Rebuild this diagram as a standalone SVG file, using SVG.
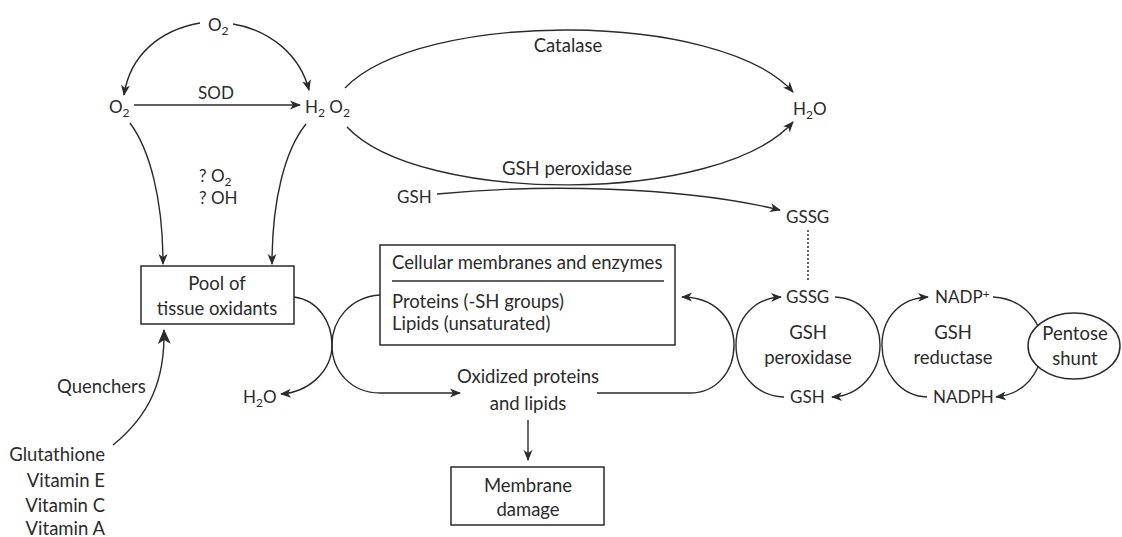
<svg xmlns="http://www.w3.org/2000/svg" width="1122" height="537" viewBox="0 0 1122 537">
<style>
text{font-family:Lato,"Liberation Sans",sans-serif;font-size:17px;fill:#2b2b2b}
text.w{font-size:18.5px}
.c{text-anchor:middle}
.r{text-anchor:end}
.sub{font-size:12px}
.ln{fill:none;stroke:#2b2b2b;stroke-width:1.4}
.box{fill:#fff;stroke:#2b2b2b;stroke-width:1.5}
</style>
<defs>
<marker id="ah" markerUnits="userSpaceOnUse" markerWidth="12" markerHeight="10" refX="10" refY="5" orient="auto" viewBox="0 0 12 10">
<path d="M0,0.5 L11,5 L0,9.5 L3,5 z" fill="#2b2b2b"/>
</marker>
<marker id="ahb" markerUnits="userSpaceOnUse" markerWidth="16" markerHeight="14" refX="14" refY="7" orient="auto" viewBox="0 0 16 14">
<path d="M0,0.5 L15,7 L0,13.5 L4,7 z" fill="#2b2b2b"/>
</marker>
</defs>
<rect width="1122" height="537" fill="#fff"/>
<g id="connectors">
<path class="ln" d="M200 23 C160 30 130 55 124 95" marker-end="url(#ah)"/>
<path class="ln" d="M233 24 C270 30 300 55 309 90" marker-end="url(#ah)"/>
<path class="ln" d="M134 105 L300 105" marker-end="url(#ah)"/>
<path class="ln" d="M130 123 C150 150 163 200 163 264" marker-end="url(#ah)"/>
<path class="ln" d="M306 124 C285 150 272 200 272 264" marker-end="url(#ah)"/>
<path class="ln" d="M345 88 C420 10 720 10 793 92" marker-end="url(#ah)"/>
<path class="ln" d="M347 127 C420 205 720 205 793 122" marker-end="url(#ah)"/>
<path class="ln" d="M437 194 C540 184 680 186 780 210" marker-end="url(#ah)"/>
<path class="ln" d="M808 230 L808 280" stroke-dasharray="2 2"/>
<path class="ln" d="M294 297 C318 300 332 322 332 345 C332 370 310 392 281 394" marker-end="url(#ah)"/>
<path class="ln" d="M380 295 C350 297 332 320 332 345 C332 372 352 393 380 393 L460 393" marker-end="url(#ah)"/>
<path class="ln" d="M597 393 L690 393 C716 393 734 372 734 345 C734 318 714 297 682 297" marker-end="url(#ah)"/>
<path class="ln" d="M784 397 C755 396 736 372 736 345 C736 318 755 298 781 297" marker-end="url(#ah)"/>
<path class="ln" d="M835 297 C862 298 880 320 880 345 C880 372 860 396 832 397" marker-end="url(#ah)"/>
<path class="ln" d="M927 397 C900 396 882 372 882 345 C882 318 900 298 928 297" marker-end="url(#ah)"/>
<path class="ln" d="M993 297 C1015 298 1030 310 1038 326"/>
<path class="ln" d="M1038 367 C1030 385 1015 395 996 397" marker-end="url(#ah)"/>
<path class="ln" d="M528 420 L528 460" marker-end="url(#ah)"/>
<path class="ln" stroke-width="2.2" d="M113 445 C150 415 165 380 164 330" marker-end="url(#ahb)"/>
</g>
<g id="o2-top"><text x="208" y="31">O<tspan class="sub" dy="4">2</tspan></text></g>
<g id="o2-left"><text x="109" y="113">O<tspan class="sub" dy="4">2</tspan></text></g>
<g id="sod"><text class="c" x="216" y="99">SOD</text></g>
<g id="h2o2"><text x="305" y="113">H<tspan class="sub" dy="4">2</tspan><tspan dy="-4"> O</tspan><tspan class="sub" dy="4">2</tspan></text></g>
<g id="radicals"><text x="199" y="182">? O<tspan class="sub" dy="4">2</tspan></text><text x="199" y="204">? OH</text></g>
<g id="catalase"><text class="c w" x="568" y="52">Catalase</text></g>
<g id="gsh-perox-label"><text class="c w" x="567" y="175">GSH peroxidase</text></g>
<g id="gsh-top"><text x="397" y="203">GSH</text></g>
<g id="h2o-right"><text x="793" y="115">H<tspan class="sub" dy="4">2</tspan><tspan dy="-4">O</tspan></text></g>
<g id="gssg-top"><text x="786" y="223">GSSG</text></g>
<g id="pool"><rect class="box" x="141" y="266" width="153" height="58"/><text class="c w" x="217" y="290">Pool of</text><text class="c w" x="217" y="315">tissue oxidants</text></g>
<g id="membranes"><rect class="box" x="380" y="245" width="295" height="100"/><text class="w" x="392" y="269">Cellular membranes and enzymes</text><line x1="392" y1="281" x2="664" y2="281" stroke="#2b2b2b" stroke-width="1.4"/><text class="w" x="392" y="308">Proteins (-SH groups)</text><text class="w" x="392" y="330">Lipids (unsaturated)</text></g>
<g id="oxidized"><text class="c w" x="528" y="383">Oxidized proteins</text><text class="c w" x="528" y="410">and lipids</text></g>
<g id="damage"><rect class="box" x="451" y="467" width="153" height="58"/><text class="c w" x="528" y="492">Membrane</text><text class="c w" x="528" y="516">damage</text></g>
<g id="h2o-left"><text x="243" y="403">H<tspan class="sub" dy="4">2</tspan><tspan dy="-4">O</tspan></text></g>
<g id="quenchers"><text class="w" x="57" y="393">Quenchers</text></g>
<g id="antioxidants"><text class="r w" x="105" y="461">Glutathione</text><text class="r w" x="105" y="487">Vitamin E</text><text class="r w" x="105" y="512">Vitamin C</text><text class="r w" x="105" y="535">Vitamin A</text></g>
<g id="gssg-low"><text x="786" y="303">GSSG</text></g>
<g id="gsh-low"><text x="790" y="403">GSH</text></g>
<g id="gsh-peroxidase"><text class="c w" x="808" y="339">GSH</text><text class="c w" x="808" y="364">peroxidase</text></g>
<g id="nadp"><text x="935" y="303">NADP<tspan class="sub" dy="-5">+</tspan></text></g>
<g id="nadph"><text x="933" y="403">NADPH</text></g>
<g id="gsh-reductase"><text class="c w" x="953" y="339">GSH</text><text class="c w" x="953" y="364">reductase</text></g>
<g id="pentose"><ellipse class="box" cx="1074" cy="346" rx="46" ry="33"/><text class="c w" x="1075" y="340">Pentose</text><text class="c w" x="1075" y="365">shunt</text></g>
</svg>
